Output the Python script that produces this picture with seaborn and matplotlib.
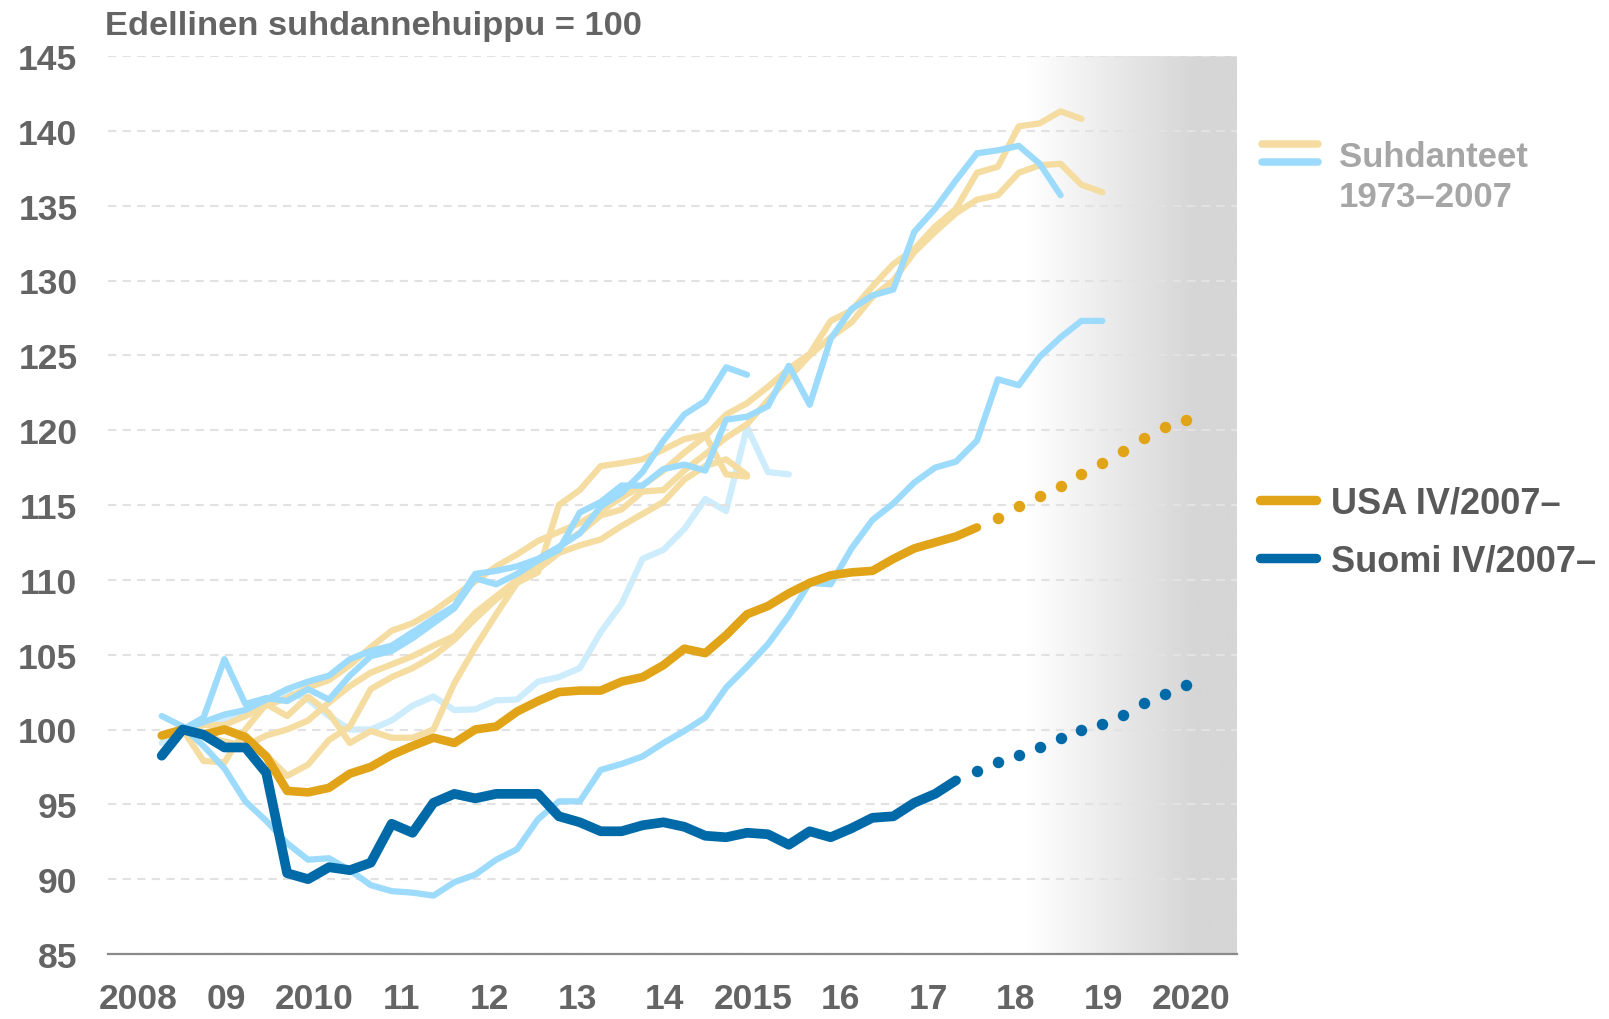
import numpy as np
import matplotlib.pyplot as plt
import seaborn as sns
from matplotlib.lines import Line2D
from matplotlib.colors import LinearSegmentedColormap

# Quarterly index values, previous cyclical peak = 100.
# x = quarter number after the start of the chart (0 = first plotted quarter)

suomi = [98.25, 100.0, 99.65, 98.8, 98.8, 97.1, 90.4, 90.0, 90.8, 90.6,
         91.1, 93.7, 93.1, 95.1, 95.7, 95.4, 95.7, 95.7, 95.7, 94.2,
         93.8, 93.2, 93.2, 93.6, 93.8, 93.5, 92.9, 92.8, 93.1, 93.0,
         92.3, 93.2, 92.8, 93.4, 94.1, 94.2, 95.1, 95.7, 96.6]
suomi_fc = [97.2, 97.8, 98.3, 98.8, 99.4, 100.0, 100.4, 101.0, 101.8, 102.4, 103.0]

usa = [99.6, 100.0, 99.65, 100.0, 99.5, 98.2, 95.9, 95.8, 96.1, 97.05,
       97.5, 98.3, 98.9, 99.45, 99.1, 100.0, 100.2, 101.2, 101.9, 102.5,
       102.6, 102.6, 103.2, 103.5, 104.3, 105.4, 105.1, 106.3, 107.7, 108.25,
       109.1, 109.8, 110.3, 110.5, 110.6, 111.4, 112.1, 112.5, 112.9, 113.5]
usa_fc = [114.15, 114.9, 115.6, 116.3, 117.05, 117.8, 118.6, 119.5, 120.2, 120.7]

# earlier cycles 1973-2007 (blue = Suomi, tan = USA)
blue_1 = [100.0, 100.8, 104.7, 101.7, 102.1, 101.9, 102.7, 102.0, 103.6, 104.9,
          105.25, 106.1, 107.1, 108.1, 110.1, 109.7, 110.4, 111.3, 112.0, 114.5,
          115.2, 116.3, 116.3, 117.4, 117.7, 117.3, 120.7, 120.9, 121.6, 124.3,
          121.7, 126.1, 128.1, 129.0, 129.4, 133.25, 134.8, 136.7, 138.5, 138.7,
          139.0, 137.8, 135.7]
blue_2 = [100.9, 100.2, 98.9, 97.4, 95.2, 93.9, 92.4, 91.3, 91.4, 90.6,
          89.6, 89.2, 89.1, 88.9, 89.8, 90.3, 91.3, 92.0, 94.0, 95.2,
          95.2, 97.3, 97.7, 98.2, 99.1, 99.9, 100.8, 102.8, 104.2, 105.7,
          107.6, 109.8, 109.7, 112.1, 114.0, 115.1, 116.5, 117.5, 117.9, 119.3,
          123.4, 123.0, 124.9, 126.2, 127.3, 127.3]
blue_3 = [100.0, 100.5, 101.0, 101.3, 102.0, 102.7, 103.2, 103.6, 104.7, 105.25,
          105.6, 106.5, 107.4, 108.25, 110.4, 110.6, 110.9, 111.4, 112.2, 113.1,
          114.9, 115.8, 117.2, 119.3, 121.05, 121.95, 124.2, 123.7]
blue_4 = [99.1, 100.0, 100.3, 100.7, 101.3, 102.0, 102.5, 102.0, 100.9, 100.0,
          100.0, 100.6, 101.6, 102.2, 101.3, 101.35, 101.95, 102.0, 103.2, 103.5,
          104.1, 106.5, 108.4, 111.4, 112.0, 113.4, 115.4, 114.6, 120.2, 117.2,
          117.05]

tan_1 = [100.0, 100.3, 100.3, 100.9, 101.6, 102.1, 102.8, 103.3, 104.3, 105.5,
         106.6, 107.1, 107.9, 108.9, 109.9, 110.9, 111.7, 112.6, 113.2, 113.8,
         114.6, 115.5, 116.3, 117.3, 118.5, 119.6, 121.05, 121.8, 122.9, 124.1,
         125.1, 127.3, 128.0, 129.6, 131.1, 132.1, 133.6, 134.8, 137.2, 137.6,
         140.3, 140.5, 141.3, 140.8]
tan_2 = [100.0, 99.6, 99.2, 98.9, 99.6, 100.0, 100.6, 101.8, 102.9, 103.8,
         104.35, 104.9, 105.6, 106.25, 107.8, 108.9, 110.0, 111.1, 112.2, 113.15,
         114.3, 114.7, 115.9, 116.0, 117.3, 118.4, 119.5, 120.4, 122.0, 123.5,
         125.0, 126.2, 127.2, 128.9, 130.0, 131.9, 133.25, 134.5, 135.4, 135.7,
         137.2, 137.7, 137.8, 136.4, 135.9]
tan_3 = [100.0, 97.9, 97.8, 100.0, 101.7, 100.9, 102.2, 101.1, 99.1, 99.9,
         99.45, 99.45, 100.0, 103.1, 105.5, 107.7, 109.8, 110.5, 115.0, 116.0,
         117.6, 117.8, 118.05, 118.7, 119.4, 119.7, 117.05, 116.9]
tan_4 = [100.0, 99.8, 100.0, 99.3, 98.3, 96.9, 97.65, 99.3, 100.2, 102.7,
         103.5, 104.1, 104.9, 106.0, 107.4, 108.7, 109.8, 110.7, 111.8, 112.3,
         112.7, 113.6, 114.4, 115.2, 116.7, 117.6, 118.05, 117.0]

years = ["2008", "09", "2010", "11", "12", "13", "14", "2015", "16", "17", "18", "19", "2020"]

TAN = "#f5dca0"
LBLUE = "#9ddbfc"
VLBLUE = "#cdecfc"
GOLD = "#e1a418"
DBLUE = "#006aa8"
TXT = "#646464"

sns.set_theme(style="white")
plt.rcParams['font.family'] = ['Liberation Sans', 'DejaVu Sans']

W, H = 1609, 1020
fig = plt.figure(figsize=(W / 100, H / 100), dpi=100)
ax = fig.add_axes([108 / W, 65 / H, 1129 / W, 898 / H])


def line(values, start, color, lw, z):
    x = np.arange(start, start + len(values))
    sns.lineplot(x=x, y=values, ax=ax, color=color, linewidth=lw, zorder=z,
                 sort=False, estimator=None,
                 solid_capstyle='round', solid_joinstyle='round')


# forecast shading
cmap = LinearSegmentedColormap.from_list(
    "fc", [(0, "#ffffff"), (0.8, "#d6d6d6"), (1, "#d6d6d6")])
grad = np.linspace(0, 1, 256).reshape(1, -1)
ax.imshow(grad, extent=[41.4, 51.44, 85, 145], aspect='auto', cmap=cmap,
          zorder=0, interpolation='bilinear')

HW = 4.5
line(blue_4, 0, VLBLUE, HW, 2)
line(tan_1, 1, TAN, HW, 3)
line(tan_2, 1, TAN, HW, 3)
line(tan_3, 1, TAN, HW, 3)
line(tan_4, 1, TAN, HW, 3)
line(blue_1, 1, LBLUE, HW, 4)
line(blue_2, 0, LBLUE, HW, 4)
line(blue_3, 1, LBLUE, HW, 4)

line(usa, 0, GOLD, 6.2, 6)
sns.scatterplot(x=np.arange(len(usa), len(usa) + len(usa_fc)), y=usa_fc, ax=ax,
                color=GOLD, s=68, linewidth=0, zorder=6)
line(suomi, 0, DBLUE, 7.0, 7)
sns.scatterplot(x=np.arange(len(suomi), len(suomi) + len(suomi_fc)), y=suomi_fc, ax=ax,
                color=DBLUE, s=68, linewidth=0, zorder=7)

ax.set_xlim(-2.57, 51.44)
ax.set_ylim(85, 145)
ax.set_yticks(range(85, 146, 5))
ax.set_xticks(-1.11 + 4.1976 * np.arange(len(years)))
ax.set_xticklabels(years)
ax.set_xlabel("")
ax.set_ylabel("")

ax.yaxis.grid(True, color="#e2e2e2", linewidth=1.5, linestyle=(0, (4, 3)), zorder=1)
ax.set_axisbelow(False)
ax.tick_params(axis='both', length=0, labelsize=25.5, labelcolor=TXT)
ax.tick_params(axis='y', pad=22)
ax.tick_params(axis='x', pad=20)
for lab in ax.get_xticklabels() + ax.get_yticklabels():
    lab.set_fontweight('bold')

for s in ['top', 'right', 'left']:
    ax.spines[s].set_visible(False)
ax.spines['bottom'].set_color("#8a8a8a")
ax.spines['bottom'].set_linewidth(1.6)
ax.spines['bottom'].set_zorder(8)

fig.text(105 / W, 1 - 35 / H, "Edellinen suhdannehuippu = 100", fontsize=24.8,
         fontweight='bold', color=TXT, ha='left', va='baseline')

# legend drawn by hand on the right
def key(x0, x1, y, color, lw):
    fig.add_artist(Line2D([x0 / W, x1 / W], [1 - y / H, 1 - y / H], color=color,
                          linewidth=lw, solid_capstyle='round',
                          transform=fig.transFigure))


key(1262, 1318, 145, TAN, 5.4)
key(1262, 1318, 163, LBLUE, 5.4)
key(1260, 1316, 501, GOLD, 6.8)
key(1260, 1316, 559, DBLUE, 6.8)

fig.text(1339 / W, 1 - 167 / H, "Suhdanteet", fontsize=25, fontweight='bold',
         color="#a6a6a6", ha='left', va='baseline')
fig.text(1339 / W, 1 - 207 / H, "1973\u20132007", fontsize=25, fontweight='bold',
         color="#a6a6a6", ha='left', va='baseline')
fig.text(1331 / W, 1 - 514 / H, "USA IV/2007\u2013", fontsize=26, fontweight='bold',
         color="#595959", ha='left', va='baseline')
fig.text(1331 / W, 1 - 572 / H, "Suomi IV/2007\u2013", fontsize=26, fontweight='bold',
         color="#595959", ha='left', va='baseline')

fig.savefig("out.png", dpi=100)
plt.close(fig)
